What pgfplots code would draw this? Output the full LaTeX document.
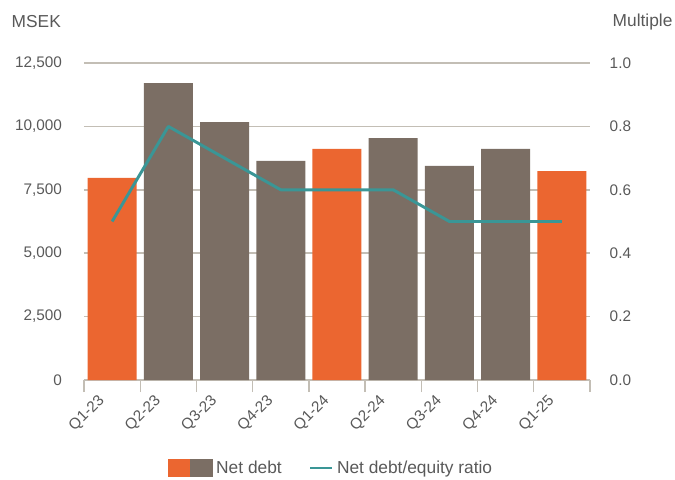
\documentclass[border=0pt]{standalone}
\usepackage{fontspec}
\setmainfont{Liberation Sans}
\usepackage{pgfplots}
\pgfplotsset{compat=1.18}
\definecolor{netorange}{HTML}{EB6630}
\definecolor{netbrown}{HTML}{7B6E64}
\definecolor{lineteal}{HTML}{3A9696}
\definecolor{gridc}{HTML}{C3BEB5}
\definecolor{txt}{HTML}{595959}

\begin{document}
\begin{tikzpicture}[font=\fontsize{11.5}{13}\selectfont]
\path[use as bounding box] (-63pt,-74.25pt) rectangle (443.25pt,285pt);
\begin{axis}[
  scale only axis, width=379.5pt, height=237.75pt,
  at={(0,0)}, anchor=south west,
  xmin=-0.5, xmax=8.5, ymin=0, ymax=12500,
  axis y line*=left, axis x line*=bottom,
  y axis line style={draw=none},
  x axis line style={gridc, line width=1.1pt, -},
  xtick={0,...,8},
  xticklabels={Q1-23,Q2-23,Q3-23,Q4-23,Q1-24,Q2-24,Q3-24,Q4-24,Q1-25},
  minor xtick={-0.5,0.5,...,8.5},
  major x tick style={draw=none},
  minor x tick style={gridc, line width=1pt},
  minor tick length=9pt,
  tick align=outside,
  ytick={0,2500,5000,7500,10000,12500},
  ytick style={draw=none},
  ymajorgrids, grid style={gridc, line width=1.1pt},
  scaled y ticks=false,
  /pgf/number format/assume math mode=true,
  yticklabel={\pgfmathprintnumber[fixed,1000 sep={,}]{\tick}},
  yticklabel style={text=txt, xshift=-8.7pt},
  xticklabel style={text=txt, xshift=-5pt, yshift=-7pt, rotate=45, anchor=east},
  ybar, bar width=36.75pt,
]
\addplot[fill=netorange, draw=none, bar shift=0pt] coordinates {(0,7970) (4,9110) (8,8240)};
\addplot[fill=netbrown, draw=none, bar shift=0pt] coordinates {(1,11710) (2,10170) (3,8640) (5,9540) (6,8440) (7,9110)};
\end{axis}
\begin{axis}[
  scale only axis, width=379.5pt, height=237.75pt,
  at={(0,0)}, anchor=south west,
  xmin=-0.5, xmax=8.5, ymin=0, ymax=1,
  axis y line*=right, axis x line=none,
  y axis line style={draw=none},
  ytick={0,0.2,0.4,0.6,0.8,1},
  ytick style={draw=none},
  tick align=outside,
  /pgf/number format/assume math mode=true,
  yticklabel={\pgfmathprintnumber[fixed,fixed zerofill,precision=1]{\tick}},
  yticklabel style={text=txt, xshift=7pt},
  clip=false,
  legend style={draw=none, fill=none, at={(0.488,-0.2776)}, anchor=center,
    legend columns=-1, text=txt, inner sep=0pt,
    nodes={inner sep=1.5pt},
    font=\fontsize{13}{15}\selectfont,
    /tikz/every odd column/.append style={column sep=1.5pt},
    /tikz/every even column/.append style={column sep=18.75pt}},
]
\addlegendimage{legend image code/.code={
  \fill[netorange] (0pt,-6.5pt) rectangle (16.5pt,6.5pt);
  \fill[netbrown] (16.5pt,-6.5pt) rectangle (33pt,6.5pt);}}
\addlegendentry{Net debt}
\addplot[lineteal, line width=2.2pt, line join=round,
  legend image code/.code={\draw[lineteal, line width=2.2pt] (0pt,0pt) -- (16pt,0pt);}]
  coordinates {(0,0.5) (1,0.8) (2,0.7) (3,0.6) (4,0.6) (5,0.6) (6,0.5) (7,0.5) (8,0.5)};
\addlegendentry{Net debt/equity ratio}
\node[anchor=west, text=txt, font=\fontsize{13}{15}\selectfont, xshift=-57.75pt, yshift=30.75pt] at (rel axis cs:0,1) {MSEK};
\node[anchor=west, text=txt, font=\fontsize{13}{15}\selectfont, xshift=13.5pt, yshift=30.75pt] at (rel axis cs:1,1) {Multiple};
\end{axis}
\end{tikzpicture}
\end{document}
